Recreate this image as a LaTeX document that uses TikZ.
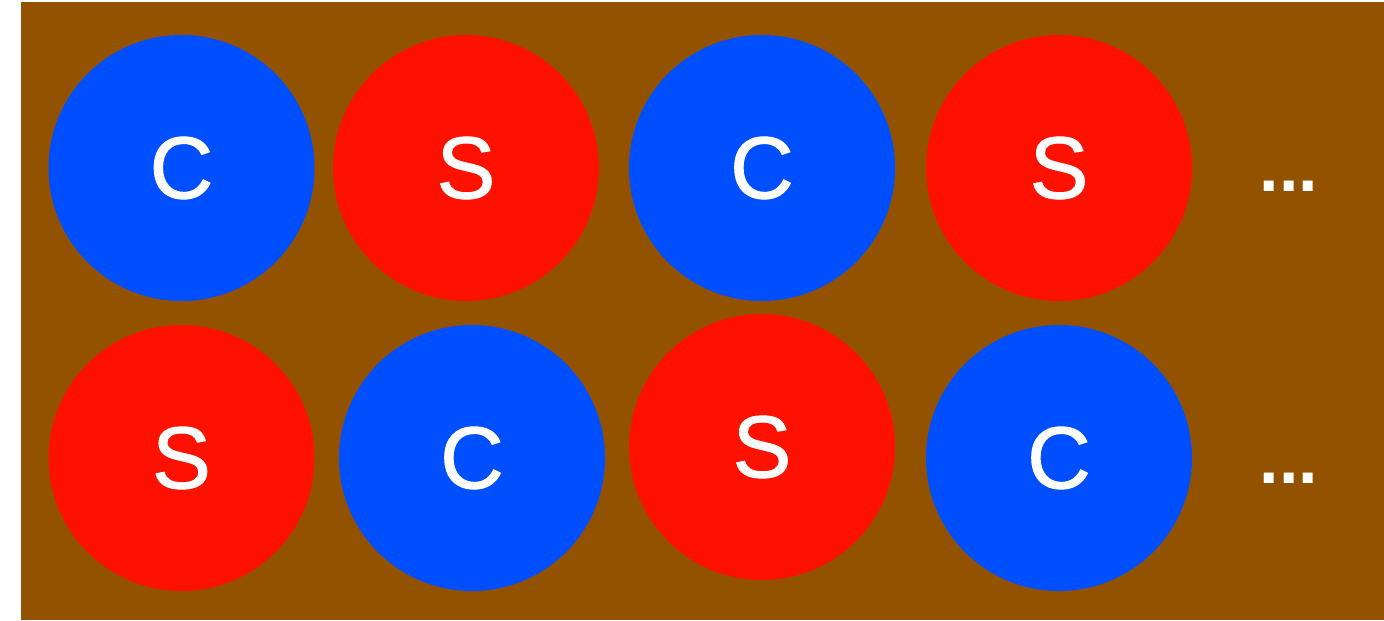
\documentclass[tikz,border=0pt]{standalone}
\usepackage{fontspec}
\setmainfont{Liberation Sans}
\newfontfamily\ballfont[FakeBold=1.2]{Liberation Sans}
\usetikzlibrary{positioning}

\definecolor{boxbrown}{HTML}{935200}
\definecolor{cblue}{HTML}{004FFF}
\definecolor{sred}{HTML}{FF1100}

\begin{document}
\begin{tikzpicture}[
    x=0.5pt, y=-0.5pt,
    ball/.style={circle, inner sep=0pt, minimum size=133pt, text=white, font=\ballfont\fontsize{44}{44}\selectfont},
    cball/.style={ball, fill=cblue},
    sball/.style={ball, fill=sred},
    more/.style={text=white, font=\fontsize{35}{35}\selectfont\bfseries},
  ]
    \useasboundingbox (0,0) rectangle (1384,620);
    \fill[boxbrown] (21,2) rectangle (1384,620);
    % top row
    \node[cball] (c1) at (181.5,168) {C};
    \node[sball] (s1) at (466,168) {S};
    \node[cball] (c2) at (762,168) {C};
    \node[sball] (s2) at (1059,168) {S};
    \node[more] (m1) at (1289,186) {...};
    % bottom row
    \node[sball] (s3) at (181.5,458) {S};
    \node[cball] (c3) at (472,458) {C};
    \node[sball] (s4) at (762,447) {S};
    \node[cball] (c4) at (1059,458) {C};
    \node[more] (m2) at (1289,478) {...};
  \end{tikzpicture}
\end{document}
